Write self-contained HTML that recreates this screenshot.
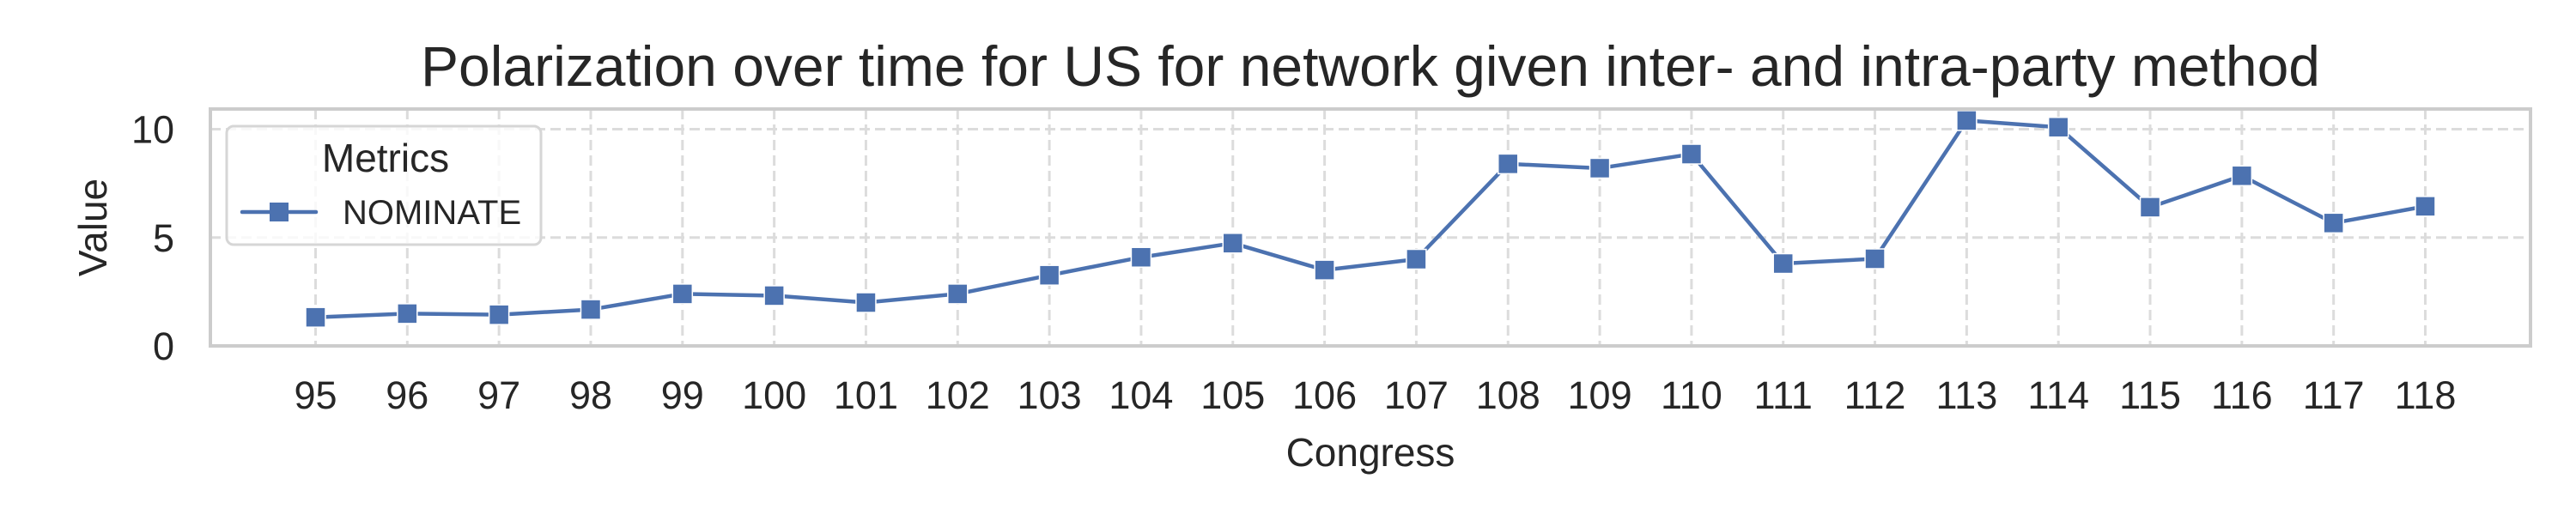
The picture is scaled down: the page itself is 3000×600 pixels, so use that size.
<!DOCTYPE html>
<html><head><meta charset="utf-8"><style>
html,body{margin:0;padding:0;background:#fff;}
svg{display:block;font-family:"Liberation Sans",Arial,sans-serif;}
</style></head><body>
<svg id="chart" width="3000" height="600" viewBox="0 0 3000 600">
<rect x="0" y="0" width="3000" height="600" fill="#fff"/>
<text x="1596" y="100" font-size="66" fill="#262626" text-anchor="middle">Polarization over time for US for network given inter- and intra-party method</text>
<g id="grid"></g>
<g id="series"></g>
<rect x="245" y="127" width="2702" height="276" fill="none" stroke="#cccccc" stroke-width="4"/>
<g id="xticks"></g>
<g id="yticks"></g>
<text x="1596" y="543" font-size="46" fill="#262626" text-anchor="middle">Congress</text>
<text transform="translate(124,265) rotate(-90)" font-size="46" fill="#262626" text-anchor="middle">Value</text>
<g>
<rect x="264" y="147" width="366" height="138" rx="8" fill="#fff" fill-opacity="0.8" stroke="#d6d6d6" stroke-width="3"/>
<text x="449" y="200" font-size="46" fill="#262626" text-anchor="middle">Metrics</text>
<line x1="282" y1="247" x2="368" y2="247" stroke="#4c72b0" stroke-width="4.5" stroke-linecap="round"/>
<rect x="314" y="236" width="22" height="22" fill="#4c72b0"/>
<text x="399" y="261" font-size="40" fill="#262626">NOMINATE</text>
</g>
</svg>
<script>
const categories = ["95","96","97","98","99","100","101","102","103","104","105","106","107","108","109","110","111","112","113","114","115","116","117","118"];
const nominateValues = [1.32,1.49,1.44,1.68,2.4,2.32,2.0,2.4,3.26,4.09,4.74,3.5,4.0,8.4,8.2,8.85,3.8,4.02,10.4,10.09,6.4,7.85,5.67,6.44];
const yTicks = [0,5,10];

const NS = "http://www.w3.org/2000/svg";
const plotLeft = 245, plotRight = 2947, plotTop = 127, plotBottom = 403;
const pad = 122.5;
function xScale(i){ return plotLeft + pad + i * (plotRight - plotLeft - 2*pad) / (categories.length - 1); }
function yScale(v){ return 403 - v * 25.25; }
function mk(tag, attrs, parent){ const e = document.createElementNS(NS, tag); for (const k in attrs) e.setAttribute(k, attrs[k]); parent.appendChild(e); return e; }

const grid = document.getElementById('grid');
const xt = document.getElementById('xticks');
const yt = document.getElementById('yticks');
const ser = document.getElementById('series');

categories.forEach((c, i) => {
  const x = xScale(i);
  const g = mk('line', {x1:x, y1:plotTop, x2:x, y2:plotBottom, stroke:'#dcdcdc', 'stroke-width':3, 'stroke-dasharray':'12,6'}, grid);
  
  
  const t = mk('text', {x:x, y:476, 'font-size':45, fill:'#262626', 'text-anchor':'middle'}, xt);
  t.textContent = c;
  
  
});
yTicks.forEach(v => {
  const y = yScale(v);
  const g = mk('line', {x1:plotLeft, y1:y, x2:plotRight, y2:y, stroke:'#dcdcdc', 'stroke-width':3, 'stroke-dasharray':'12,6'}, grid);
  
  
  const t = mk('text', {x:203, y:y + 16, 'font-size':45, fill:'#262626', 'text-anchor':'end'}, yt);
  t.textContent = v;
  
  
});
const pts = nominateValues.map((v, i) => xScale(i) + ',' + yScale(v)).join(' ');
const line = mk('polyline', {points:pts, fill:'none', stroke:'#4c72b0', 'stroke-width':4.5, 'stroke-linejoin':'round'}, ser);


nominateValues.forEach((v, i) => {
  const m = mk('rect', {x:xScale(i) - 11.5, y:yScale(v) - 11.5, width:23, height:23, fill:'#4c72b0', stroke:'#fff', 'stroke-width':1.5}, ser);
  
  
});
</script>
</body></html>
